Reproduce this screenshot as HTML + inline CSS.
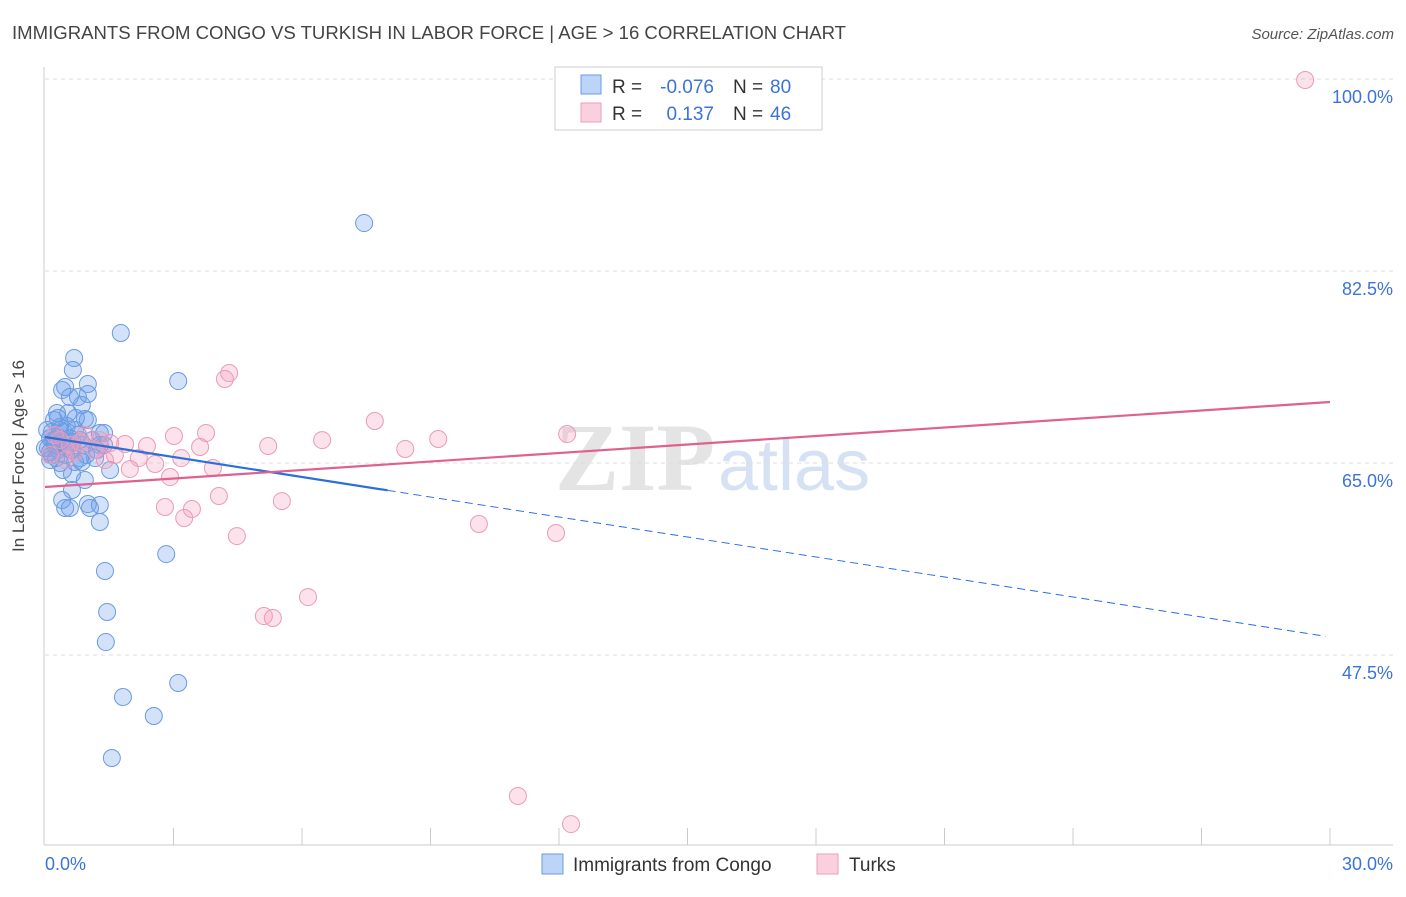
<!DOCTYPE html>
<html><head><meta charset="utf-8"><style>
body{margin:0;background:#fff;font-family:"Liberation Sans",sans-serif;}
</style></head><body>
<svg width="1406" height="892" viewBox="0 0 1406 892" xmlns="http://www.w3.org/2000/svg">
<text x="12" y="39" font-size="18" fill="#444" textLength="834" lengthAdjust="spacingAndGlyphs">IMMIGRANTS FROM CONGO VS TURKISH IN LABOR FORCE | AGE &gt; 16 CORRELATION CHART</text>
<text x="1394" y="39" font-size="15" fill="#555" font-style="italic" text-anchor="end">Source: ZipAtlas.com</text>
<text x="555" y="490" font-size="96" fill="#e4e4e4" font-family="Liberation Serif,serif" font-weight="bold">ZIP</text>
<text x="718" y="490" font-size="72" fill="#d6e2f4">atlas</text>
<g id="grid"></g>
<line x1="44" y1="67" x2="44" y2="845" stroke="#ccc"/>
<line x1="44" y1="845" x2="1393" y2="845" stroke="#ccc"/>
<g id="ticks"></g>
<text x="24" y="456" font-size="17" fill="#444" text-anchor="middle" transform="rotate(-90 24 456)">In Labor Force | Age &gt; 16</text>
<text x="45" y="870" font-size="18" fill="#3b73d9">0.0%</text>
<text x="1393" y="870" font-size="18" fill="#3b73d9" text-anchor="end">30.0%</text>
<g id="pts"></g>
<g id="lines"></g>
<g>
<rect x="555" y="67" width="267" height="63" fill="#fff" stroke="#ccc"/>
<rect x="581" y="75" width="20" height="19" fill="rgba(120,170,240,0.5)" stroke="#6a9be0"/>
<rect x="581" y="103" width="20" height="19" fill="rgba(245,160,190,0.5)" stroke="#eba0ba"/>
<text x="612" y="93" font-size="19" fill="#333">R =</text>
<text x="714" y="93" font-size="19" fill="#3b73d9" text-anchor="end">-0.076</text>
<text x="733" y="93" font-size="19" fill="#333">N =</text>
<text x="770" y="93" font-size="19" fill="#3b73d9">80</text>
<text x="612" y="120" font-size="19" fill="#333">R =</text>
<text x="714" y="120" font-size="19" fill="#3b73d9" text-anchor="end">0.137</text>
<text x="733" y="120" font-size="19" fill="#333">N =</text>
<text x="770" y="120" font-size="19" fill="#3b73d9">46</text>
</g>
<g>
<rect x="542" y="854" width="21" height="20" fill="rgba(120,170,240,0.5)" stroke="#6a9be0"/>
<text x="573" y="871" font-size="19" fill="#333">Immigrants from Congo</text>
<rect x="817" y="854" width="21" height="20" fill="rgba(245,160,190,0.5)" stroke="#eba0ba"/>
<text x="849" y="871" font-size="19" fill="#333">Turks</text>
</g>
</svg>
<script>
const yTicks=[100,82.5,65,47.5];
const yTickLabels=["100.0%","82.5%","65.0%","47.5%"];
const xTicks=[3,6,9,12,15,18,21,24,27,30];
const congoX=[7.45,1.77,.68,3.11,.65,.40,1.00,.47,.58,.77,.86,.28,.54,.93,1.00,.21,.35,.51,.70,1.28,1.38,.16,.40,.58,.82,1.28,.23,.30,.47,.63,.96,1.21,.16,.35,.70,.86,1.52,.12,.63,.93,.63,.40,1.00,1.28,1.05,.47,.58,1.28,2.83,1.40,1.45,1.42,3.11,1.82,2.54,1.56,.23,.07,.12,.30,.54,.77,1.10,.35,.19,.49,0,.26,.42,.82,1.17,.12,.65,.89,1.38,.05,.44,.72,1.00,.30];
const congoY=[86.87,76.85,74.57,72.47,73.48,71.65,72.20,71.93,71.01,71.01,70.29,69.56,69.56,69.01,68.92,68.92,68.28,68.37,68.01,67.73,67.73,67.82,67.09,67.27,67.09,66.64,66.64,66.18,66.46,66.18,65.73,66.18,65.73,65.00,65.09,65.09,64.36,65.27,64.00,63.45,62.54,61.63,61.26,61.17,60.90,60.90,60.90,59.62,56.70,55.16,51.42,48.68,44.95,43.67,41.94,38.11,67.09,66.36,66.00,67.37,66.64,67.55,67.09,68.01,67.09,65.73,66.36,65.45,64.36,65.45,65.45,67.27,66.91,66.64,66.64,68.01,67.82,69.10,71.29,69.10];
const turksX=[29.42,4.30,4.20,7.70,12.19,9.18,6.47,3.01,3.76,5.21,8.41,2.38,3.62,1.87,1.52,3.18,2.19,2.57,3.92,1.98,2.92,4.06,5.53,2.80,3.43,3.25,10.13,11.93,4.48,6.14,5.11,5.32,11.04,12.28,.35,.58,.82,1.17,.12,.47,1.28,1.63,.23,.93,1.40,.70];
const turksY=[99.91,73.20,72.66,68.83,67.64,67.19,67.09,67.46,67.73,66.55,66.28,66.55,66.46,66.73,66.82,65.45,65.45,64.91,64.54,64.45,63.72,61.99,61.53,60.99,60.81,59.99,59.44,58.62,58.34,52.78,51.05,50.87,34.65,32.09,67.09,66.64,66.91,66.18,65.73,65.27,67.09,65.73,67.55,67.55,65.27,66.00];
const congoTrend=[67.37,49.14];
const turksTrend=[62.81,70.56];
const congoSolidEnd=8.0;

const NS="http://www.w3.org/2000/svg";
const X=v=>45+v*1285/30;
const Y=v=>79+(100-v)*192/17.5;
function mk(tag,attrs,parent){const e=document.createElementNS(NS,tag);for(const k in attrs)e.setAttribute(k,attrs[k]);document.getElementById(parent).appendChild(e);return e;}
yTicks.forEach((t,i)=>{
  const l=mk('line',{x1:45,x2:1393,y1:Y(t),y2:Y(t),stroke:'#ddd','stroke-dasharray':'4,4'},'grid');
  
  
  const tx=mk('text',{x:1393,y:Y(t)+24,'font-size':18,fill:'#3b73d9','text-anchor':'end'},'grid');
  tx.textContent=yTickLabels[i];
  
  
});
xTicks.forEach(t=>{
  const l=mk('line',{x1:X(t),x2:X(t),y1:828,y2:845,stroke:'#ccc'},'ticks');
  
  
});
function pts(xs,ys,fill,stroke,name){
  xs.forEach((x,i)=>{
    const c=mk('circle',{cx:X(x),cy:Y(ys[i]),r:8.5,fill:fill,stroke:stroke,'stroke-width':1},'pts');
    
    
  });
}
pts(congoX,congoY,'rgba(110,160,235,0.3)','#6a9be0','congo-point');
pts(turksX,turksY,'rgba(245,160,190,0.3)','#eb9ab8','turks-point');
const cy=x=>congoTrend[0]+(congoTrend[1]-congoTrend[0])*x/30;
let l1=mk('line',{x1:X(0),y1:Y(cy(0)),x2:X(congoSolidEnd),y2:Y(cy(congoSolidEnd)),stroke:'#2a6fdb','stroke-width':2.2},'lines');


let l2=mk('line',{x1:X(congoSolidEnd),y1:Y(cy(congoSolidEnd)),x2:X(29.9),y2:Y(cy(29.9)),stroke:'#2a6fdb','stroke-width':1,'stroke-dasharray':'8,5'},'lines');


let l3=mk('line',{x1:X(0),y1:Y(turksTrend[0]),x2:X(30),y2:Y(turksTrend[1]),stroke:'#e0608e','stroke-width':2.2},'lines');


</script>
</body></html>
